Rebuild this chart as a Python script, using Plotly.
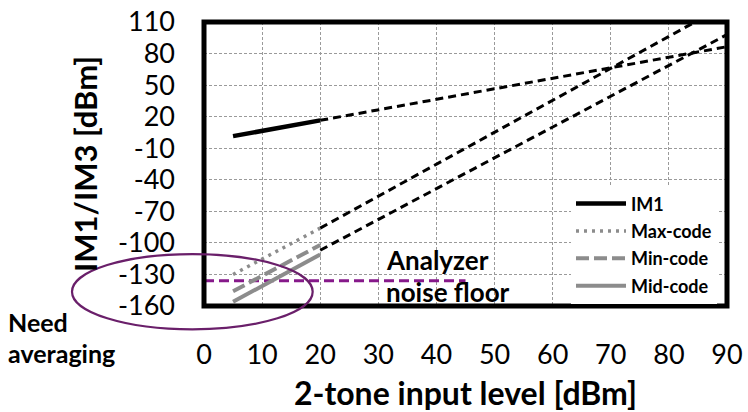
import plotly.graph_objects as go

# ---- data ----
x_meas = [5, 20]
im1_meas = [1.5, 16.5]
max_code = [-130, -86]
min_code = [-146, -102]
mid_code = [-156, -111]

im1_ext_x = [20, 90]
im1_ext_y = [16.5, 86.5]
im3a_ext_x = [20, 84.5]
im3a_ext_y = [-86, 110]
im3b_ext_x = [20, 90]
im3b_ext_y = [-107, 98]

noise_x = [0, 45]
noise_y = [-136, -136]

x_ticks = [0, 10, 20, 30, 40, 50, 60, 70, 80, 90]
y_ticks = [110, 80, 50, 20, -10, -40, -70, -100, -130, -160]

FONT = "Lato"
GRAY = "#8c8c8c"
PURPLE = "#86198a"
ELLIPSE = "#6a1f6a"

ML = 175                      # left margin: y labels end here
PLOT_L, PLOT_R = 204, 727     # frame position in px
XD0 = (PLOT_L - ML) / (748 - ML - 21)

fig = go.Figure()

# extrapolation lines (not in legend)
for xs, ys in [(im1_ext_x, im1_ext_y), (im3a_ext_x, im3a_ext_y), (im3b_ext_x, im3b_ext_y)]:
    fig.add_trace(go.Scatter(x=xs, y=ys, mode="lines", showlegend=False,
                             line=dict(color="black", width=3, dash="8px,5px"),
                             hoverinfo="skip"))

fig.add_trace(go.Scatter(x=noise_x, y=noise_y, mode="lines", showlegend=False,
                         line=dict(color=PURPLE, width=3, dash="10px,5px"),
                         hoverinfo="skip"))

fig.add_trace(go.Scatter(x=x_meas, y=im1_meas, mode="lines", name="<b>IM1</b>",
                         legendgroup="a", line=dict(color="black", width=4.5)))
fig.add_trace(go.Scatter(x=x_meas, y=max_code, mode="lines", name="<b>Max-code</b>",
                         legendgroup="b", line=dict(color=GRAY, width=3.5, dash="3px,5px")))
fig.add_trace(go.Scatter(x=x_meas, y=min_code, mode="lines", name="<b>Min-code</b>",
                         legendgroup="c", line=dict(color=GRAY, width=4, dash="13px,5px")))
fig.add_trace(go.Scatter(x=x_meas, y=mid_code, mode="lines", name="<b>Mid-code</b>",
                         legendgroup="d", line=dict(color=GRAY, width=4)))

fig.update_layout(
    width=748, height=412,
    margin=dict(l=ML, r=21, t=22, b=106),
    paper_bgcolor="white", plot_bgcolor="white",
    font=dict(family=FONT, color="black"),
    showlegend=True,
    legend=dict(x=(571 - ML) / (748 - ML - 21), y=0.425, xanchor="left", yanchor="top",
                bgcolor="white", borderwidth=0, tracegroupgap=1, itemwidth=50,
                font=dict(family=FONT, size=18)),
    xaxis=dict(domain=[XD0, 1], range=[0, 90], tickvals=x_ticks,
               ticktext=[str(v) for v in x_ticks],
               showgrid=True, gridcolor="#9a9a9a", gridwidth=1, griddash="3px,2px",
               zeroline=False, showline=False, ticks="", ticklabelstandoff=30,
               automargin=False,
               tickfont=dict(family=FONT, size=27),
               title=dict(text="<b>2-tone input level [dBm]</b>", standoff=31,
                          font=dict(family=FONT, size=32))),
    yaxis=dict(anchor="free", position=0, range=[-160, 110], tickvals=y_ticks,
               ticktext=[str(v) for v in y_ticks],
               showgrid=True, gridcolor="#9a9a9a", gridwidth=1, griddash="3px,2px",
               zeroline=False, showline=False, ticks="",
               automargin=False,
               tickfont=dict(family=FONT, size=27),
               title=dict(text="<b>IM1/IM3 [dBm]</b>", standoff=10,
                          font=dict(family=FONT, size=31))),
    shapes=[
        dict(type="rect", xref="x domain", yref="y domain", x0=0, x1=1, y0=0, y1=1,
             line=dict(color="black", width=5), layer="above"),
        dict(type="circle", xref="x domain", yref="y domain",
             x0=-0.2524, x1=0.2078, y0=-0.082, y1=0.183,
             line=dict(color=ELLIPSE, width=2.2), layer="above"),
    ],
    annotations=[
        dict(text="<b>Analyzer</b>", x=31.0, y=-116.5, xref="x", yref="y", xanchor="left",
             yanchor="middle", showarrow=False,
             font=dict(family=FONT, size=26)),
        dict(text="<b>noise floor</b>", x=31.0, y=-146.5, xref="x", yref="y", xanchor="left",
             yanchor="middle", showarrow=False,
             font=dict(family=FONT, size=26)),
        dict(text="<b>Need</b>", x=(6 - PLOT_L) / 523, y=(306 - 322) / 284,
             xref="x domain", yref="y domain",
             xanchor="left", yanchor="middle", showarrow=False,
             font=dict(family=FONT, size=25)),
        dict(text="<b>averaging</b>", x=(6 - PLOT_L) / 523, y=(306 - 353) / 284,
             xref="x domain", yref="y domain",
             xanchor="left", yanchor="middle", showarrow=False,
             font=dict(family=FONT, size=25)),
    ],
)

fig.write_html("out.html")
